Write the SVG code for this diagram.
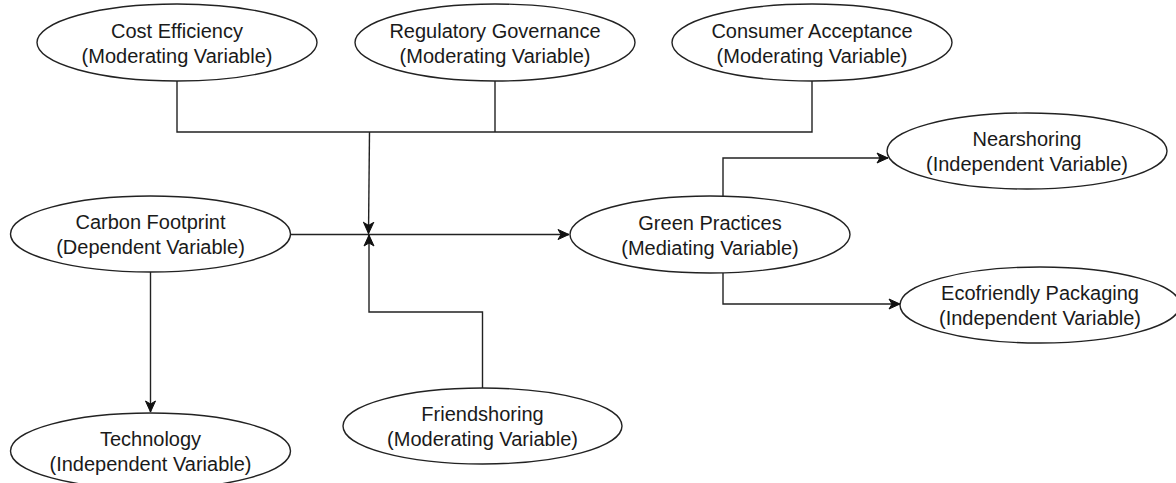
<svg xmlns="http://www.w3.org/2000/svg" width="1176" height="483" viewBox="0 0 1176 483">
  <style>
    .node ellipse { fill: #ffffff; stroke: #222222; stroke-width: 1.4; }
    .node text { font-family: "Liberation Sans", Arial, sans-serif; font-size: 20px; fill: #1a1a1a; text-anchor: middle; }
    .edge { fill: none; stroke: #222222; stroke-width: 1.4; }
    .arrow { marker-end: url(#head); }
  </style>
  <defs>
    <marker id="head" markerUnits="userSpaceOnUse" viewBox="-12 -6 13 12" refX="0" refY="0" markerWidth="13" markerHeight="12" orient="auto">
      <path d="M -11 -5 L 0 0 L -11 5 L -8 0 Z" fill="#111111" stroke="#111111" stroke-width="1" stroke-linejoin="miter"/>
    </marker>
  </defs>

  <rect width="1176" height="483" fill="#ffffff"/>

  <!-- connectors -->
  <g id="connectors">
    <!-- three moderators merge into one bus and point down at the main path -->
    <path class="edge" d="M 177 81 V 132 H 812 V 80"/>
    <path class="edge" d="M 495 80 V 132"/>
    <path class="edge arrow" d="M 369.5 132 L 368.5 233.5"/>
    <!-- main path: Carbon Footprint to Green Practices -->
    <path class="edge arrow" d="M 290 234.5 H 569"/>
    <!-- Friendshoring points up at the main path -->
    <path class="edge arrow" d="M 482.5 388 V 312 H 369 V 235"/>
    <!-- Green Practices out to Nearshoring and Ecofriendly Packaging -->
    <path class="edge arrow" d="M 723 196 V 158 H 888"/>
    <path class="edge arrow" d="M 723 273 V 304 H 900"/>
    <!-- Carbon Footprint down to Technology -->
    <path class="edge arrow" d="M 150.5 272 V 412"/>
  </g>

  <g id="cost-efficiency" class="node">
    <ellipse cx="177" cy="42.5" rx="140" ry="38.5"/>
    <text x="177" y="37.5">Cost Efficiency</text>
    <text x="177" y="62.5">(Moderating Variable)</text>
  </g>

  <g id="regulatory-governance" class="node">
    <ellipse cx="495" cy="42.5" rx="140" ry="38.5"/>
    <text x="495" y="37.5">Regulatory Governance</text>
    <text x="495" y="62.5">(Moderating Variable)</text>
  </g>

  <g id="consumer-acceptance" class="node">
    <ellipse cx="812" cy="42.5" rx="140" ry="38.5"/>
    <text x="812" y="37.5">Consumer Acceptance</text>
    <text x="812" y="62.5">(Moderating Variable)</text>
  </g>

  <g id="carbon-footprint" class="node">
    <ellipse cx="150.5" cy="234" rx="140" ry="38"/>
    <text x="150.5" y="229">Carbon Footprint</text>
    <text x="150.5" y="254">(Dependent Variable)</text>
  </g>

  <g id="green-practices" class="node">
    <ellipse cx="710" cy="234.5" rx="140" ry="38.5"/>
    <text x="710" y="229.5">Green Practices</text>
    <text x="710" y="254.5">(Mediating Variable)</text>
  </g>

  <g id="nearshoring" class="node">
    <ellipse cx="1027" cy="151" rx="140" ry="38"/>
    <text x="1027" y="146">Nearshoring</text>
    <text x="1027" y="171">(Independent Variable)</text>
  </g>

  <g id="ecofriendly-packaging" class="node">
    <ellipse cx="1040" cy="305" rx="140" ry="38"/>
    <text x="1040" y="300">Ecofriendly Packaging</text>
    <text x="1040" y="325">(Independent Variable)</text>
  </g>

  <g id="friendshoring" class="node">
    <ellipse cx="482.5" cy="426" rx="139.5" ry="38"/>
    <text x="482.5" y="421">Friendshoring</text>
    <text x="482.5" y="446">(Moderating Variable)</text>
  </g>

  <g id="technology" class="node">
    <ellipse cx="150.5" cy="451" rx="140" ry="38"/>
    <text x="150.5" y="446">Technology</text>
    <text x="150.5" y="471">(Independent Variable)</text>
  </g>
</svg>
